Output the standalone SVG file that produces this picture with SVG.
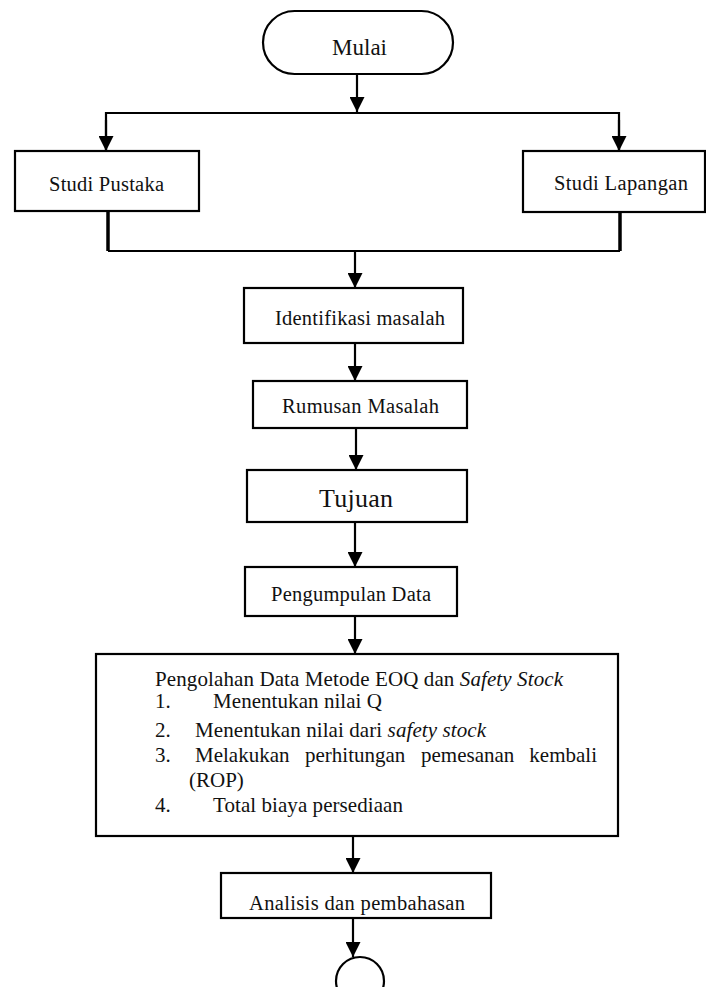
<svg xmlns="http://www.w3.org/2000/svg" width="706" height="987" viewBox="0 0 706 987">
<defs>
<style>
.box{fill:#fff;stroke:#000;stroke-width:2.2}
.t{fill:#111}
.c{text-anchor:middle}
.ln{fill:none;stroke:#000;stroke-width:2.2}
.thick{fill:none;stroke:#000;stroke-width:3.5}
</style>
<marker id="ah" markerUnits="userSpaceOnUse" markerWidth="15" markerHeight="15" refX="15" refY="7.5" orient="auto">
<path d="M0,0 L15,7.5 L0,15 z" fill="#000"/>
</marker>
</defs>
<rect width="706" height="987" fill="#fff"/>

<g id="connectors">
<line class="ln" x1="357" y1="74" x2="357" y2="112" marker-end="url(#ah)"/>
<polyline class="ln" points="106,151 106,113 619,113 619,151"/>
<line class="ln" x1="106" y1="120" x2="106" y2="151" marker-end="url(#ah)"/>
<line class="ln" x1="619" y1="120" x2="619" y2="151" marker-end="url(#ah)"/>
<polyline class="thick" points="108,211 108,251"/>
<polyline class="thick" points="620,212 620,251"/>
<polyline class="ln" points="108,251 620,251"/>
<line class="ln" x1="355" y1="251" x2="355" y2="288" marker-end="url(#ah)"/>
<line class="ln" x1="355" y1="343" x2="355" y2="381" marker-end="url(#ah)"/>
<line class="ln" x1="356" y1="428" x2="356" y2="470" marker-end="url(#ah)"/>
<line class="ln" x1="355" y1="522" x2="355" y2="567" marker-end="url(#ah)"/>
<line class="ln" x1="355" y1="616" x2="355" y2="654" marker-end="url(#ah)"/>
<line class="ln" x1="353" y1="836" x2="353" y2="873" marker-end="url(#ah)"/>
<line class="ln" x1="353" y1="918" x2="353" y2="957" marker-end="url(#ah)"/>
</g>

<g font-family="'Liberation Serif', 'DejaVu Serif', 'Times New Roman', serif" font-size="20.5">
<g id="mulai">
<rect class="box" x="263" y="11" width="190" height="63" rx="31.5"/>
<text class="t" x="332" y="55" font-size="23" textLength="55">Mulai</text>
</g>

<g id="studi-pustaka">
<rect class="box" x="15" y="151" width="184" height="60"/>
<text class="t" x="49" y="191" textLength="115">Studi Pustaka</text>
</g>

<g id="studi-lapangan">
<rect class="box" x="523" y="151" width="182" height="61"/>
<text class="t" x="554" y="190" textLength="134">Studi Lapangan</text>
</g>

<g id="identifikasi">
<rect class="box" x="244" y="288" width="219" height="55"/>
<text class="t" x="275" y="325" textLength="170">Identifikasi masalah</text>
</g>

<g id="rumusan">
<rect class="box" x="253" y="381" width="214" height="47"/>
<text class="t" x="282" y="413" textLength="157">Rumusan Masalah</text>
</g>

<g id="tujuan">
<rect class="box" x="247" y="470" width="220" height="52"/>
<text class="t" x="319" y="507" font-size="26" textLength="74">Tujuan</text>
</g>

<g id="pengumpulan">
<rect class="box" x="245" y="567" width="212" height="49"/>
<text class="t" x="271" y="601" textLength="160">Pengumpulan Data</text>
</g>

<g id="pengolahan" font-size="21">
<rect class="box" x="96" y="654" width="522" height="182"/>
<text class="t" x="155" y="686" textLength="408">Pengolahan Data Metode EOQ dan <tspan font-style="italic">Safety Stock</tspan></text>
<text class="t" x="155" y="708">1.</text>
<text class="t" x="213" y="708" textLength="169">Menentukan nilai Q</text>
<text class="t" x="155" y="737">2.</text>
<text class="t" x="195" y="737" textLength="291">Menentukan nilai dari <tspan font-style="italic">safety stock</tspan></text>
<text class="t" x="155" y="762">3.</text>
<text class="t" x="195" y="762">Melakukan</text>
<text class="t" x="305" y="762">perhitungan</text>
<text class="t" x="421" y="762">pemesanan</text>
<text class="t" x="597" y="762" text-anchor="end">kembali</text>
<text class="t" x="189" y="787">(ROP)</text>
<text class="t" x="155" y="812">4.</text>
<text class="t" x="213" y="812" textLength="190">Total biaya persediaan</text>
</g>

<g id="analisis">
<rect class="box" x="221" y="873" width="270" height="45"/>
<text class="t" x="249" y="910" textLength="216">Analisis dan pembahasan</text>
</g>
</g>

<g id="selesai">
<circle class="box" cx="360" cy="981" r="24"/>
</g>
</svg>
